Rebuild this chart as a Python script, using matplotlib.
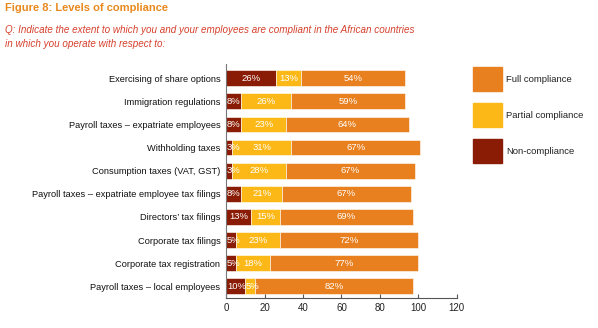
import numpy as np
import matplotlib.pyplot as plt
from matplotlib.patches import Rectangle

categories = [
    "Exercising of share options",
    "Immigration regulations",
    "Payroll taxes \u2013 expatriate employees",
    "Withholding taxes",
    "Consumption taxes (VAT, GST)",
    "Payroll taxes \u2013 expatriate employee tax filings",
    "Directors\u2019 tax filings",
    "Corporate tax filings",
    "Corporate tax registration",
    "Payroll taxes \u2013 local employees",
]
non_compliance = [26, 8, 8, 3, 3, 8, 13, 5, 5, 10]
partial_compliance = [13, 26, 23, 31, 28, 21, 15, 23, 18, 5]
full_compliance = [54, 59, 64, 67, 67, 67, 69, 72, 77, 82]
xticks = [0, 20, 40, 60, 80, 100, 120]

c_non = "#8a1c05"
c_part = "#fcb817"
c_full = "#e8801f"

plt.rcParams['font.family'] = ['Liberation Sans', 'DejaVu Sans']

fig = plt.figure(figsize=(5.98, 3.28), dpi=100)
ax = fig.add_axes([0.378, 0.092, 0.386, 0.712])

y = np.arange(len(categories))
non = np.array(non_compliance)
part = np.array(partial_compliance)
full = np.array(full_compliance)

h = 0.68
ax.barh(y, non, height=h, color=c_non, edgecolor="white", linewidth=0.4)
ax.barh(y, part, left=non, height=h, color=c_part, edgecolor="white", linewidth=0.4)
ax.barh(y, full, left=non + part, height=h, color=c_full, edgecolor="white", linewidth=0.4)


def seg_label(start, val, yy):
    # small segments: label starts at the segment's left edge
    if val < 11:
        ax.text(start + 0.4, yy, f"{val}%", color="white", fontsize=6.8,
                ha="left", va="center")
    else:
        ax.text(start + val / 2, yy, f"{val}%", color="white", fontsize=6.8,
                ha="center", va="center")


for i in range(len(categories)):
    seg_label(0, non[i], y[i])
    seg_label(non[i], part[i], y[i])
    seg_label(non[i] + part[i], full[i], y[i])

ax.set_xlim(0, 120)
ax.set_ylim(len(categories) - 0.5, -0.6)
ax.set_xticks(xticks)
ax.set_xticklabels([str(t) for t in xticks], fontsize=7, color="#222222")
ax.set_yticks(y)
ax.set_yticklabels(categories, fontsize=6.7, color="#111111")
ax.tick_params(axis="y", length=0, pad=4)
ax.tick_params(axis="x", length=3, direction="in", color="#555555", pad=4)
for s in ["top", "right"]:
    ax.spines[s].set_visible(False)
ax.spines["left"].set_color("#777777")
ax.spines["bottom"].set_color("#555555")

# title and question
fig.text(0.008, 0.975, "Figure 8: Levels of compliance", fontsize=8,
         fontweight="bold", color="#e8891e", va="center")
fig.text(0.008, 0.91, "Q: Indicate the extent to which you and your employees are compliant in the African countries",
         fontsize=7.1, style="italic", color="#d6402c", va="center")
fig.text(0.008, 0.866, "in which you operate with respect to:",
         fontsize=7.1, style="italic", color="#d6402c", va="center")

# legend
legend_items = [("Full compliance", c_full), ("Partial compliance", c_part),
                ("Non-compliance", c_non)]
for k, (lab, col) in enumerate(legend_items):
    top = 67 + k * 36
    fig.patches.append(Rectangle((473 / 598, 1 - (top + 24) / 328), 29 / 598, 24 / 328,
                                 transform=fig.transFigure, color=col))
    fig.text(506 / 598, 1 - (top + 12) / 328, lab, fontsize=6.8, color="#222222",
             va="center")

fig.savefig("out.png", dpi=100)
